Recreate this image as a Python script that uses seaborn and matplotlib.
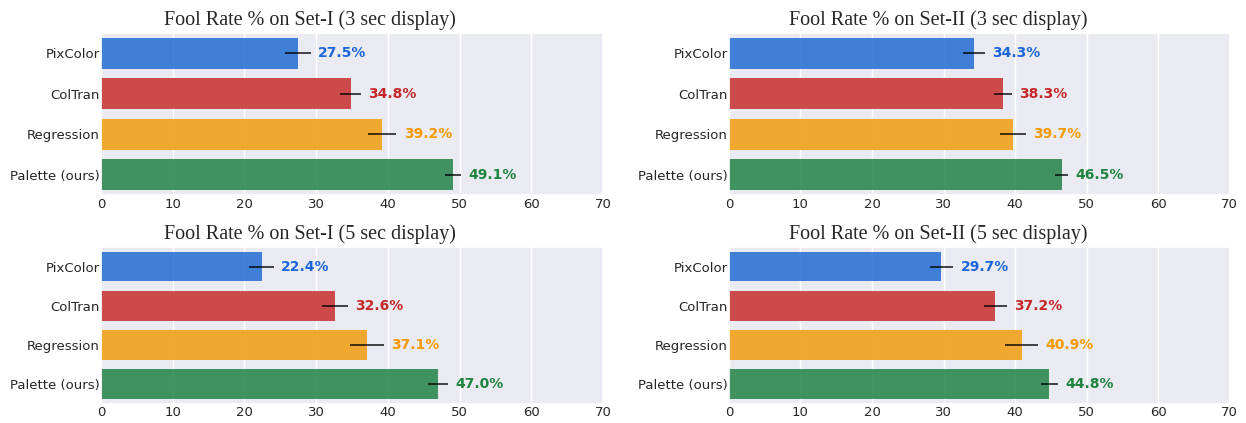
import numpy as np
import pandas as pd
import matplotlib
matplotlib.use('Agg')
import matplotlib.pyplot as plt
import seaborn as sns

methods = ['PixColor', 'ColTran', 'Regression', 'Palette (ours)']
bar_colors = ['#2d74d6', '#c93838', '#f1a11b', '#2d8a51']
text_colors = ['#1a66d9', '#c62828', '#f59a00', '#1e843e']

titles = ['Fool Rate % on Set-I (3 sec display)',
          'Fool Rate % on Set-II (3 sec display)',
          'Fool Rate % on Set-I (5 sec display)',
          'Fool Rate % on Set-II (5 sec display)']

set1_3s = [27.5, 34.8, 39.2, 49.1]
set2_3s = [34.3, 38.3, 39.7, 46.5]
set1_5s = [22.4, 32.6, 37.1, 47.0]
set2_5s = [29.7, 37.2, 40.9, 44.8]

set1_3s_err = [1.8, 1.5, 2.0, 1.1]
set2_3s_err = [1.55, 1.3, 1.85, 0.95]
set1_5s_err = [1.75, 1.85, 2.4, 1.45]
set2_5s_err = [1.65, 1.6, 2.3, 1.25]

xticks = [0, 10, 20, 30, 40, 50, 60, 70]

sns.set_theme(style='darkgrid')

fig = plt.figure(figsize=(12.46, 4.23), dpi=100)
# left, bottom, width, height
boxes = [(0.081, 0.539, 0.403, 0.383),
         (0.585, 0.539, 0.402, 0.383),
         (0.081, 0.046, 0.403, 0.370),
         (0.585, 0.046, 0.402, 0.370)]

all_vals = [set1_3s, set2_3s, set1_5s, set2_5s]
all_errs = [set1_3s_err, set2_3s_err, set1_5s_err, set2_5s_err]

for box, title, vals, errs in zip(boxes, titles, all_vals, all_errs):
    ax = fig.add_axes(box)
    df = pd.DataFrame({'method': methods, 'rate': vals, 'err': errs})
    sns.barplot(data=df, x='rate', y='method', hue='method', palette=bar_colors,
                legend=False, orient='h', alpha=0.9, width=0.76, saturation=1,
                linewidth=0, ax=ax)
    ax.errorbar(df['rate'], np.arange(len(methods)), xerr=df['err'], fmt='none',
                ecolor='black', elinewidth=1.2, capsize=0, alpha=0.85)
    for i, (v, e) in enumerate(zip(vals, errs)):
        ax.text(v + e + 1.0, i, f'{v:.1f}%', ha='left', va='center',
                color=text_colors[i], fontweight='bold', fontsize=10)
    ax.set_xlim(0, 70)
    ax.set_ylim(3.5, -0.5)
    ax.set_xticks(xticks)
    ax.set_xlabel('')
    ax.set_ylabel('')
    ax.tick_params(axis='y', length=0, pad=1, labelsize=9.5, labelcolor='#262626')
    ax.tick_params(axis='x', length=0, pad=2, labelsize=9.5, labelcolor='#262626')
    # title is centred over the whole panel incl. tick labels
    ax.set_title(title, fontsize=14.5, family='Liberation Serif', pad=6, x=0.417)

plt.savefig('out.png', dpi=100)
